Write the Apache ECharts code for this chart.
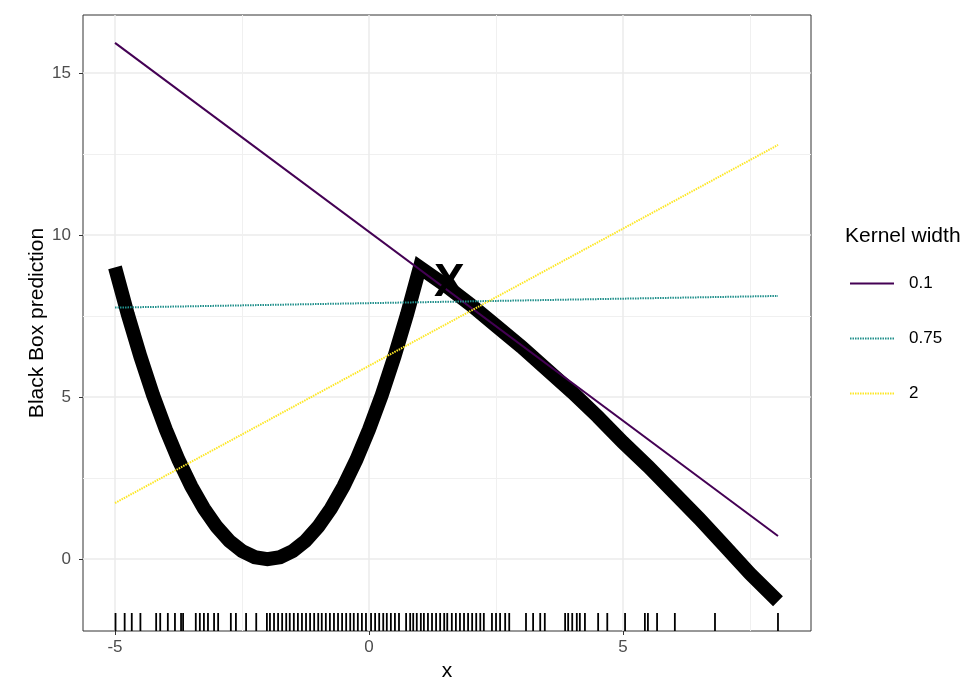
<!DOCTYPE html>
<html>
<head>
<meta charset="utf-8">
<script src="https://cdn.jsdelivr.net/npm/echarts@6/dist/echarts.min.js"></script>
<style>
html,body{margin:0;padding:0;background:#fff;}
#chart{width:980px;height:694px;}
</style>
</head>
<body>
<div id="chart"></div>
<script>
// ---- data ----
const curveX = [-5,-4.75,-4.5,-4.25,-4,-3.75,-3.5,-3.25,-3,-2.75,-2.5,-2.25,-2,-1.75,-1.5,-1.25,-1,-0.75,-0.5,-0.25,0,0.25,0.5,0.75,1,
                1.5,2,2.5,3,3.5,4,4.5,5,5.5,6,6.5,7,7.5,8.05];
const curveY = [9,7.56,6.25,5.06,4,3.06,2.25,1.56,1,0.56,0.25,0.06,0,0.06,0.25,0.56,1,1.56,2.25,3.06,4,5.06,6.25,7.56,9,
                8.45,7.85,7.2,6.55,5.85,5.15,4.4,3.6,2.85,2.05,1.25,0.4,-0.45,-1.3];
const lineX = [-5, 8.05];
const pred01 = [15.93, 0.71];
const pred075 = [7.76, 8.12];
const pred2 = [1.73, 12.78];
const kernelNames = ['0.1', '0.75', '2'];
const markerPoint = [1.58, 8.64];
const rugX = [-4.99,-4.81,-4.67,-4.50,-4.19,-4.11,-3.96,-3.82,-3.70,-3.66,-3.41,-3.33,-3.25,-3.17,-3.05,-2.97,-2.72,-2.62,
  -2.42,-2.22,-2.01,-1.95,-1.87,-1.79,-1.71,-1.63,-1.56,-1.48,-1.40,-1.32,-1.24,-1.16,-1.08,-1.00,-0.93,-0.85,-0.77,-0.69,
  -0.61,-0.53,-0.45,-0.37,-0.30,-0.22,-0.14,-0.06,0.04,0.12,0.20,0.28,0.35,0.43,0.51,0.59,0.73,0.81,0.87,0.94,1.02,1.08,
  1.16,1.24,1.32,1.40,1.48,1.54,1.63,1.71,1.79,1.87,1.95,2.03,2.11,2.19,2.26,2.42,2.50,2.58,2.68,2.76,3.09,3.23,3.37,3.46,
  3.86,3.92,4.00,4.09,4.15,4.25,4.51,4.69,5.04,5.43,5.49,5.67,6.02,6.81,8.05];
const xMajorTicks = [-5, 0, 5];
const xMinorTicks = [-2.5, 2.5, 7.5];
const yMajorTicks = [0, 5, 10, 15];
const yMinorTicks = [2.5, 7.5, 12.5];
const xRange = [-5.63, 8.70];
const yRange = [-2.22, 16.79];

const FONT = '"Liberation Sans", Arial, sans-serif';
const zip = (a, b) => a.map((v, i) => [v, b[i]]);

const chart = echarts.init(document.getElementById('chart'), null, {renderer: 'canvas'});

const majorAxis = (pos, range, ticks, name, gap, margin) => ({
  type: 'value', position: pos, min: range[0], max: range[1],
  name: name, nameLocation: 'middle', nameGap: gap, nameMoveOverlap: false,
  nameTextStyle: {fontFamily: FONT, fontSize: 21, color: '#000'},
  axisLine: {show: false, onZero: false},
  axisTick: {show: true, inside: false, length: 4, customValues: ticks, lineStyle: {color: '#333', width: 1}},
  axisLabel: {color: '#4D4D4D', fontSize: 17, fontFamily: FONT, customValues: ticks, margin: margin},
  splitLine: {show: true, lineStyle: {color: '#EBEBEB', width: 1.5}},
  minorTick: {show: false}, minorSplitLine: {show: false}
});
const minorAxis = (pos, range, ticks) => ({
  type: 'value', position: pos, min: range[0], max: range[1],
  axisLine: {show: false, onZero: false},
  axisTick: {show: false, customValues: ticks},
  axisLabel: {show: false, customValues: ticks},
  splitLine: {show: true, lineStyle: {color: '#F0F0F0', width: 1}}
});

const option = {
  animation: false,
  backgroundColor: '#fff',
  grid: {left: 83, right: 169, top: 15, bottom: 63, show: true, borderColor: '#333', borderWidth: 1,
         backgroundColor: 'transparent', containLabel: false, outerBoundsMode: 'none'},
  title: {text: 'Kernel width', left: 840, top: 221, textStyle: {fontFamily: FONT, fontSize: 21, fontWeight: 'normal', color: '#000'}},
  legend: {
    data: kernelNames, orient: 'vertical', left: 844, top: 270,
    itemWidth: 44, itemHeight: 14, itemGap: 38,
    itemStyle: {opacity: 0},
    textStyle: {fontFamily: FONT, fontSize: 17, color: '#000', padding: [0, 0, 0, 10]},
    selectedMode: false
  },
  xAxis: [
    majorAxis('bottom', xRange, xMajorTicks, 'x', 30, 8),
    minorAxis('bottom', xRange, xMinorTicks)
  ],
  yAxis: [
    majorAxis('left', yRange, yMajorTicks, 'Black Box prediction', 35, 12),
    minorAxis('left', yRange, yMinorTicks)
  ],
  series: [
    {
      name: 'blackbox', type: 'line',
      data: zip(curveX, curveY), showSymbol: false, symbol: 'none',
      lineStyle: {color: '#000', width: 14, cap: 'butt', join: 'miter'}, z: 2
    },
    {
      name: kernelNames[0], type: 'line',
      data: zip(lineX, pred01), symbol: 'none', color: '#440154',
      lineStyle: {color: '#440154', width: 2, type: 'solid'}, z: 3
    },
    {
      name: kernelNames[1], type: 'line',
      data: zip(lineX, pred075), symbol: 'none', color: '#21908C',
      lineStyle: {color: '#21908C', width: 2, type: [1.5, 1]}, z: 3
    },
    {
      name: kernelNames[2], type: 'line',
      data: zip(lineX, pred2), symbol: 'none', color: '#FDE725',
      lineStyle: {color: '#FDE725', width: 2, type: [1.5, 1]}, z: 3
    },
    {
      name: 'marker', type: 'scatter',
      data: [markerPoint], symbolSize: 1, itemStyle: {color: 'rgba(0,0,0,0)', opacity: 1},
      label: {show: true, position: 'inside', formatter: 'X', fontFamily: FONT, fontSize: 46, fontWeight: 'bold', color: '#000',
              textBorderWidth: 0, offset: [0, 4]}, z: 5
    },
    {
      name: 'rug', type: 'scatter', clip: false,
      data: rugX.map(v => [v, yRange[0]]), symbol: 'rect', symbolSize: [1.8, 18], symbolOffset: [0, -9],
      itemStyle: {color: '#000', opacity: 1}, z: 4
    }
  ]
};
chart.setOption(option);
</script>
</body>
</html>
